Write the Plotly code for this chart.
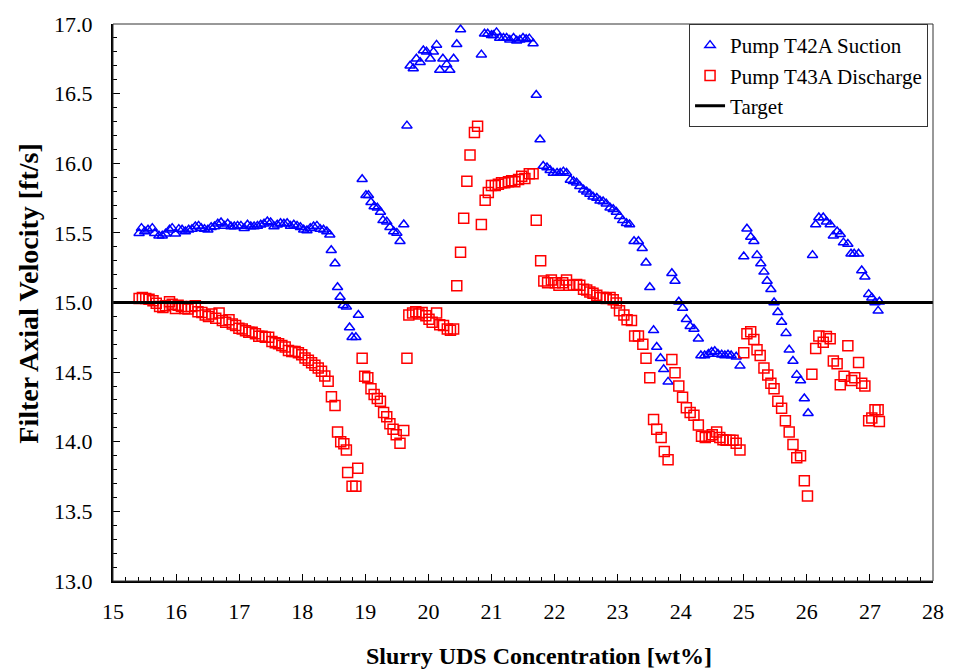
import plotly.graph_objects as go

# Pump T42A suction: slurry UDS concentration [wt%] and filter axial velocity [ft/s]
suction_x = [
    15.414, 15.451, 15.503, 15.555, 15.623, 15.660, 15.728, 15.781, 15.833, 15.896,
    15.938, 15.990, 16.043, 16.095, 16.147, 16.200, 16.252, 16.305, 16.357, 16.399,
    16.451, 16.504, 16.556, 16.609, 16.661, 16.713, 16.766, 16.818, 16.870, 16.923,
    16.975, 17.028, 17.080, 17.132, 17.185, 17.237, 17.290, 17.342, 17.394, 17.447,
    17.499, 17.552, 17.604, 17.656, 17.709, 17.761, 17.814, 17.866, 17.918, 17.971,
    18.023, 18.075, 18.128, 18.180, 18.233, 18.285, 18.337, 18.390, 18.437,
    18.46, 18.52, 18.56, 18.60, 18.65, 18.70, 18.75, 18.79, 18.85, 18.89,
    18.95, 19.01, 19.05, 19.09, 19.14, 19.19, 19.24, 19.28, 19.34, 19.39,
    19.45, 19.50, 19.55, 19.61, 19.66,
    19.71, 19.76, 19.81, 19.87, 19.92, 19.97, 20.03, 20.08, 20.13, 20.18,
    20.23, 20.29, 20.34, 20.40, 20.45, 20.51, 20.84, 20.89, 20.94, 21.00,
    21.03, 21.08, 21.13, 21.19, 21.24, 21.29, 21.35, 21.40, 21.45, 21.50,
    21.55, 21.60, 21.66, 21.71, 21.77,
    21.82, 21.88, 21.93, 21.98, 22.04, 22.09, 22.14, 22.19, 22.25, 22.30,
    22.35, 22.40, 22.46, 22.51, 22.56, 22.61, 22.67, 22.72, 22.77, 22.82,
    22.88, 22.93, 22.98, 23.03, 23.08, 23.14, 23.19, 23.26, 23.33, 23.39,
    23.45, 23.51, 23.57, 23.62, 23.68, 23.73, 23.80, 23.86, 23.91, 23.97,
    24.03, 24.09, 24.15, 24.21, 24.28, 24.32, 24.38, 24.44, 24.49, 24.54,
    24.59, 24.65, 24.70, 24.75, 24.80, 24.88, 24.94,
    25.00, 25.05, 25.11, 25.16, 25.21, 25.27, 25.32, 25.37, 25.43, 25.48,
    25.54, 25.60, 25.67, 25.72, 25.78, 25.84, 25.90, 25.96, 26.02,
    26.09, 26.14, 26.19, 26.26, 26.31, 26.37, 26.42, 26.48, 26.53, 26.58,
    26.65, 26.70, 26.75, 26.82, 26.87, 26.92, 26.98, 27.03, 27.08, 27.15, 27.13,
]
suction_v = [
    15.498, 15.534, 15.510, 15.522, 15.534, 15.498, 15.479, 15.479, 15.494, 15.522,
    15.534, 15.494, 15.527, 15.522, 15.510, 15.522, 15.527, 15.546, 15.550, 15.534,
    15.527, 15.522, 15.541, 15.546, 15.565, 15.574, 15.550, 15.565, 15.546, 15.546,
    15.550, 15.550, 15.534, 15.558, 15.546, 15.546, 15.550, 15.558, 15.565, 15.581,
    15.574, 15.546, 15.558, 15.569, 15.565, 15.569, 15.550, 15.558, 15.550, 15.541,
    15.522, 15.517, 15.534, 15.546, 15.550, 15.527, 15.522, 15.510, 15.487,
    15.375, 15.28, 15.11, 15.04, 14.98, 14.97, 14.82, 14.75, 14.75, 14.91,
    15.885, 15.77, 15.77, 15.72, 15.69, 15.68, 15.65, 15.59, 15.58, 15.54,
    15.51, 15.50, 15.44, 15.56, 16.27,
    16.70, 16.68, 16.75, 16.725, 16.81, 16.80, 16.75, 16.80, 16.85, 16.67,
    16.75, 16.71, 16.67, 16.75, 16.855, 16.96, 16.78, 16.93, 16.93, 16.92,
    16.92, 16.94, 16.90, 16.90, 16.90, 16.886, 16.90, 16.88, 16.886, 16.90,
    16.89, 16.895, 16.86, 16.49, 16.17,
    15.98, 15.97, 15.95, 15.93, 15.93, 15.93, 15.94, 15.93, 15.88, 15.87,
    15.86, 15.835, 15.81, 15.795, 15.78, 15.76, 15.75, 15.73, 15.725, 15.71,
    15.68, 15.67, 15.65, 15.62, 15.59, 15.57, 15.56, 15.44, 15.44, 15.39,
    15.285, 15.11, 14.80, 14.68, 14.60, 14.52, 14.43, 15.21, 15.155, 15.005,
    14.96, 14.88, 14.83, 14.81, 14.74, 14.62, 14.62, 14.63, 14.645, 14.65,
    14.63, 14.625, 14.62, 14.625, 14.62, 14.61, 14.545,
    15.33, 15.53, 15.47, 15.44, 15.34, 15.28, 15.22, 15.155, 15.095, 15.00,
    14.93, 14.86, 14.78, 14.66, 14.58, 14.48, 14.44, 14.31, 14.205,
    15.34, 15.56, 15.61, 15.61, 15.58, 15.56, 15.48, 15.51, 15.49, 15.43,
    15.42, 15.35, 15.35, 15.35, 15.23, 15.185, 15.06, 15.035, 15.00, 15.005, 14.94,
]

# Pump T43A discharge
discharge_x = [
    15.414, 15.466, 15.519, 15.571, 15.634, 15.686, 15.739, 15.791, 15.833, 15.896,
    15.938, 15.990, 16.032, 16.085, 16.137, 16.189, 16.242, 16.305, 16.347, 16.409,
    16.462, 16.514, 16.567, 16.629, 16.682, 16.734, 16.787, 16.839, 16.891, 16.944,
    16.996, 17.049, 17.101, 17.153, 17.206, 17.258, 17.311, 17.363, 17.415, 17.468,
    17.520, 17.573, 17.625, 17.677, 17.730, 17.782, 17.835, 17.887, 17.939, 17.992,
    18.044, 18.097, 18.149, 18.201, 18.254, 18.306, 18.358, 18.411, 18.463,
    18.52, 18.56, 18.61, 18.66, 18.70, 18.72, 18.79, 18.85, 18.88,
    18.95, 18.99, 19.04, 19.09, 19.14, 19.19, 19.24, 19.29, 19.34, 19.39,
    19.44, 19.49, 19.55, 19.61, 19.66,
    19.69, 19.75, 19.80, 19.85, 19.90, 19.96, 20.01, 20.06, 20.13, 20.18,
    20.24, 20.30, 20.35, 20.40,
    20.45, 20.51, 20.56, 20.61, 20.66, 20.73, 20.78, 20.84, 20.90, 20.95,
    21.00, 21.06, 21.11, 21.16, 21.21, 21.27, 21.32, 21.37, 21.43, 21.48,
    21.53, 21.60, 21.66, 21.71, 21.78,
    21.83, 21.89, 21.95, 22.01, 22.07, 22.13, 22.19, 22.23, 22.30, 22.35,
    22.40, 22.46, 22.51, 22.56, 22.61, 22.67, 22.72, 22.77, 22.82, 22.88,
    22.93, 22.98, 23.03, 23.10, 23.15, 23.22, 23.27, 23.33, 23.40, 23.45,
    23.51, 23.57, 23.62, 23.69, 23.74, 23.80,
    23.86, 23.91, 23.97, 24.03, 24.09, 24.15, 24.21, 24.28, 24.33, 24.39,
    24.45, 24.50, 24.57, 24.62, 24.67, 24.72, 24.78, 24.83, 24.88, 24.94,
    25.00, 25.05, 25.11, 25.16, 25.21, 25.26, 25.32, 25.38, 25.43, 25.48,
    25.54, 25.60, 25.66, 25.72, 25.78, 25.84, 25.90, 25.96, 26.01,
    26.08, 26.14, 26.19, 26.26, 26.31, 26.37, 26.42, 26.48, 26.53, 26.59,
    26.65, 26.71, 26.76, 26.82, 26.87, 26.92, 26.98, 27.03, 27.08, 27.13, 27.15,
]
discharge_v = [
    15.029, 15.036, 15.029, 15.024, 15.012, 14.995, 14.971, 14.964, 14.976, 15.005,
    14.988, 14.957, 14.981, 14.971, 14.957, 14.953, 14.971, 14.976, 14.934, 14.929,
    14.910, 14.900, 14.917, 14.886, 14.924, 14.870, 14.858, 14.877, 14.846, 14.834,
    14.815, 14.810, 14.798, 14.786, 14.786, 14.775, 14.758, 14.758, 14.751, 14.751,
    14.720, 14.711, 14.703, 14.692, 14.680, 14.656, 14.649, 14.649, 14.639, 14.625,
    14.601, 14.585, 14.568, 14.549, 14.530, 14.506, 14.473, 14.435, 14.324,
    14.26, 14.07, 14.00, 13.985, 13.94, 13.78, 13.68, 13.68, 13.81,
    14.60, 14.47, 14.46, 14.38, 14.34, 14.31, 14.29, 14.21, 14.18, 14.13,
    14.09, 14.05, 13.99, 14.08, 14.60,
    14.91, 14.924, 14.934, 14.917, 14.929, 14.905, 14.88, 14.858, 14.924, 14.84,
    14.834, 14.81, 14.80, 14.81,
    15.12, 15.36, 15.605, 15.87, 16.06, 16.22, 16.265, 15.56, 15.735, 15.79,
    15.84, 15.84, 15.85, 15.86, 15.86, 15.867, 15.874, 15.867, 15.883, 15.906,
    15.89, 15.925, 15.925, 15.59, 15.30,
    15.155, 15.142, 15.161, 15.142, 15.123, 15.142, 15.161, 15.123, 15.123, 15.130,
    15.123, 15.095, 15.090, 15.076, 15.066, 15.052, 15.036, 15.036, 15.029, 15.036,
    15.020, 14.996, 14.94, 14.91, 14.877, 14.87, 14.76, 14.76, 14.70, 14.60,
    14.46, 14.16, 14.09, 14.03, 13.93, 13.87,
    14.59, 14.495, 14.40, 14.32, 14.245, 14.21, 14.19, 14.12, 14.04, 14.03,
    14.04, 14.05, 14.07, 14.03, 14.015, 14.01, 14.01, 14.01, 13.99, 13.94,
    14.64, 14.775, 14.79, 14.735, 14.66, 14.62, 14.53, 14.48, 14.42, 14.38,
    14.29, 14.24, 14.15, 14.07, 13.98, 13.885, 13.90, 13.72, 13.61,
    14.485, 14.67, 14.76, 14.715, 14.755, 14.74, 14.58, 14.56, 14.41, 14.47,
    14.69, 14.44, 14.46, 14.57, 14.42, 14.40, 14.15, 14.17, 14.23, 14.23, 14.145,
]

# Target filter axial velocity line
target_x = [15, 28]
target_v = [15.0, 15.0]

SERIF = "Liberation Serif, Times New Roman, serif"

fig = go.Figure()
fig.add_trace(go.Scatter(
    x=suction_x, y=suction_v, mode="markers", name="Pump T42A Suction",
    marker=dict(symbol="triangle-up-open", size=9, color="#0000FF",
                line=dict(width=1.5, color="#0000FF")),
))
fig.add_trace(go.Scatter(
    x=discharge_x, y=discharge_v, mode="markers", name="Pump T43A Discharge",
    marker=dict(symbol="square-open", size=10, color="#FF0000",
                line=dict(width=1.5, color="#FF0000")),
))
fig.add_trace(go.Scatter(
    x=target_x, y=target_v, mode="lines", name="Target",
    line=dict(color="black", width=3),
))

# thin frame around the plotting area
fig.add_shape(type="rect", xref="paper", yref="paper", x0=0, y0=0, x1=1, y1=1,
              line=dict(color="#333333", width=1), layer="above")

# axis titles
fig.add_annotation(text="<b>Slurry UDS Concentration [wt%]</b>",
                   xref="paper", yref="paper", x=0.52, y=-0.135,
                   xanchor="center", yanchor="middle", showarrow=False,
                   font=dict(family=SERIF, size=24, color="black"))
fig.add_annotation(text="<b>Filter Axial Velocity [ft/s]</b>",
                   xref="paper", yref="paper", x=-0.103, y=0.515,
                   xanchor="center", yanchor="middle", showarrow=False,
                   textangle=-90,
                   font=dict(family=SERIF, size=28, color="black"))

fig.update_layout(
    width=956, height=671,
    margin=dict(l=113, r=16, t=19, b=90),
    paper_bgcolor="white", plot_bgcolor="white",
    font=dict(family=SERIF, size=22, color="black"),
    showlegend=True,
    legend=dict(
        x=0.7025, y=1, xanchor="left", yanchor="top",
        bgcolor="white", bordercolor="#333333", borderwidth=1,
        font=dict(family=SERIF, size=21, color="black"),
        itemwidth=30, tracegroupgap=0,
    ),
    xaxis=dict(
        range=[15, 28], dtick=1, tick0=15,
        ticks="inside", ticklen=7, tickwidth=1, tickcolor="black",
        minor=dict(dtick=0.2, ticks="inside", ticklen=4, tickwidth=1, tickcolor="black"),
        showgrid=False, zeroline=False,
        showline=True, linecolor="black", linewidth=2,
        ticklabelstandoff=10,
    ),
    yaxis=dict(
        range=[13.0, 17.0], dtick=0.5, tick0=13, tickformat=".1f",
        ticks="inside", ticklen=7, tickwidth=1, tickcolor="black",
        minor=dict(dtick=0.1, ticks="inside", ticklen=4, tickwidth=1, tickcolor="black"),
        showgrid=False, zeroline=False,
        showline=True, linecolor="black", linewidth=2,
        ticklabelstandoff=14,
    ),
)

fig.write_html("out.html")
